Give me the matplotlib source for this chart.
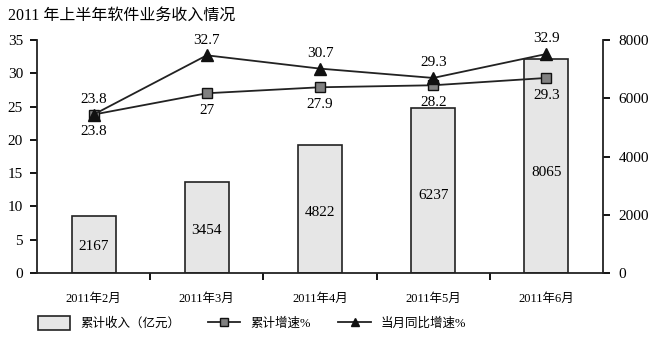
import matplotlib
matplotlib.use("Agg")
import matplotlib.pyplot as plt
import numpy as np

plt.rcParams['font.family'] = ['Liberation Serif', 'Noto Sans CJK SC']

months = ['2011年2月', '2011年3月', '2011年4月', '2011年5月', '2011年6月']
income = [2167, 3454, 4822, 6237, 8065]          # 累计收入（亿元）
cum_growth = [23.8, 27, 27.9, 28.2, 29.3]        # 累计增速%
month_growth = [23.8, 32.7, 30.7, 29.3, 32.9]    # 当月同比增速%

x = np.arange(len(months))

fig = plt.figure(figsize=(6.56, 3.49), dpi=100)
ax = fig.add_axes([37/656, 1 - 273/349, 566/656, 233/349])
ax2 = ax.twinx()   # right tick axis
ax3 = ax.twinx()   # bars
ax3.set_zorder(0)
ax.set_zorder(2)
ax.patch.set_visible(False)

# bars
bars = ax3.bar(x, income, width=0.39, color='#e6e6e6', edgecolor='#222222',
               linewidth=1.2, label='累计收入（亿元）')
ax3.set_ylim(0, 8800)
ax3.axis('off')
for xi, v in zip(x, income):
    ax3.text(xi, v * 0.47, str(v), ha='center', va='center', fontsize=11)

# lines
l1, = ax.plot(x, cum_growth, color='#222222', lw=1.3, marker='s', ms=7.5,
              mfc='#808080', mec='#111111', label='累计增速%')
l2, = ax.plot(x, month_growth, color='#222222', lw=1.3, marker='^', ms=8,
              mfc='#111111', mec='#111111', label='当月同比增速%')
for xi, v in zip(x, cum_growth):
    ax.text(xi, v - 1.6, f'{v:g}', ha='center', va='top', fontsize=11)
for xi, v in zip(x, month_growth):
    ax.text(xi, v + 1.3, f'{v:g}', ha='center', va='bottom', fontsize=11)

ax.set_xlim(-0.5, len(months) - 0.5)
ax.set_ylim(0, 35)
ax.set_yticks(np.arange(0, 36, 5))
ax2.set_ylim(0, 8000)
ax2.set_yticks(np.arange(0, 8001, 2000))

for a in (ax, ax2, ax3):
    a.spines['top'].set_visible(False)
ax.spines['right'].set_visible(False)
ax2.spines['left'].set_visible(False)
ax2.spines['bottom'].set_visible(False)
for sp in ('left', 'bottom'):
    ax.spines[sp].set_linewidth(1.3)
    ax.spines[sp].set_color('#222222')
ax2.spines['right'].set_linewidth(1.3)
ax2.spines['right'].set_color('#222222')

ax.set_xticks(x)
ax.set_xticklabels(months, fontsize=9)
ax.set_xticks(np.arange(0.5, len(months) - 1, 1), minor=True)
ax.tick_params(axis='x', which='major', length=0, pad=14)
ax.tick_params(axis='x', which='minor', length=5, width=1.3, direction='out')
ax.tick_params(axis='y', labelsize=11, length=5, width=1.3, direction='out', pad=5)
ax2.tick_params(axis='y', labelsize=11, length=5, width=1.3, direction='out', pad=6)

fig.text(8/656, 1 - 16/349, '2011 年上半年软件业务收入情况', fontsize=11.5,
         ha='left', va='center')

fig.legend(handles=[bars, l1, l2], loc='center', ncol=3, frameon=False,
           bbox_to_anchor=(252/656, 1 - 323/349), fontsize=9,
           handlelength=2.6, handleheight=1.3, columnspacing=2.2,
           handletextpad=0.8, markerscale=0.75)

fig.savefig('out.png', dpi=100)
